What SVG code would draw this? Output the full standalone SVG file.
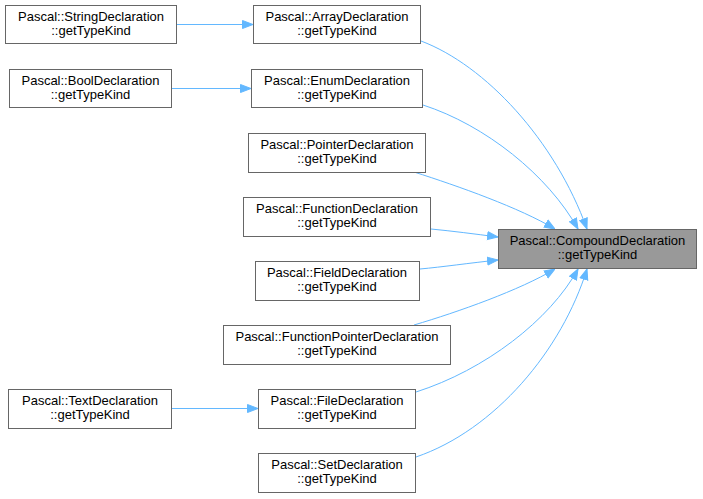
<svg xmlns="http://www.w3.org/2000/svg" width="703" height="499" viewBox="0 0 703 499">
<style>
.n rect{fill:#fff;stroke:#666;stroke-width:1}
.hl rect{fill:#999;stroke:#666;stroke-width:1}
text{font-family:"Liberation Sans",Arial,sans-serif;font-size:13px;text-anchor:middle;fill:#000}
.e path{fill:none;stroke:#63b8ff;stroke-width:1}
</style>
<defs>
<marker id="ah" viewBox="0 0 11 10" refX="11" refY="5" markerWidth="11" markerHeight="10" markerUnits="userSpaceOnUse" orient="auto">
<path d="M0.5,1 L11,5 L0.5,9 z" fill="#63b8ff" stroke="#63b8ff" stroke-width="1"/>
</marker>
</defs>
<rect width="703" height="499" fill="#fff"/>
<g class="e">
<path d="M176,24.5 H253" marker-end="url(#ah)"/>
<path d="M172,88.5 H251" marker-end="url(#ah)"/>
<path d="M172,408.5 H258" marker-end="url(#ah)"/>
<path d="M421,41 C485,65 555,140 587,229" marker-end="url(#ah)"/>
<path d="M423,105 C485,125 548,175 578,229" marker-end="url(#ah)"/>
<path d="M414,172 C458,186 520,208 555,229" marker-end="url(#ah)"/>
<path d="M431,229 C452,231 475,234 498,237" marker-end="url(#ah)"/>
<path d="M420,269 C442,267 470,263 498,260" marker-end="url(#ah)"/>
<path d="M414,325 C458,312 520,290 555,269" marker-end="url(#ah)"/>
<path d="M416,392 C485,370 550,320 578,269" marker-end="url(#ah)"/>
<path d="M416,457 C495,430 562,350 587,269" marker-end="url(#ah)"/>
</g>
<g id="n-string" class="n"><rect x="5.5" y="5.5" width="171" height="38"/><text x="91" y="20.5">Pascal::StringDeclaration</text><text x="91" y="34.5">::getTypeKind</text></g>
<g id="n-bool" class="n"><rect x="9.5" y="69.5" width="162" height="38"/><text x="90.5" y="84.5">Pascal::BoolDeclaration</text><text x="90.5" y="98.5">::getTypeKind</text></g>
<g id="n-text" class="n"><rect x="8.5" y="389.5" width="163" height="39"/><text x="90" y="404.5">Pascal::TextDeclaration</text><text x="90" y="418.5">::getTypeKind</text></g>
<g id="n-array" class="n"><rect x="253.5" y="5.5" width="167" height="38"/><text x="337" y="20.5">Pascal::ArrayDeclaration</text><text x="337" y="34.5">::getTypeKind</text></g>
<g id="n-enum" class="n"><rect x="251.5" y="69.5" width="171" height="38"/><text x="337" y="84.5">Pascal::EnumDeclaration</text><text x="337" y="98.5">::getTypeKind</text></g>
<g id="n-pointer" class="n"><rect x="248.5" y="133.5" width="177" height="39"/><text x="337" y="148.5">Pascal::PointerDeclaration</text><text x="337" y="162.5">::getTypeKind</text></g>
<g id="n-function" class="n"><rect x="243.5" y="197.5" width="187" height="39"/><text x="337" y="212.5">Pascal::FunctionDeclaration</text><text x="337" y="226.5">::getTypeKind</text></g>
<g id="n-field" class="n"><rect x="255.5" y="261.5" width="164" height="39"/><text x="337" y="276.5">Pascal::FieldDeclaration</text><text x="337" y="290.5">::getTypeKind</text></g>
<g id="n-fptr" class="n"><rect x="223.5" y="325.5" width="227" height="39"/><text x="337" y="340.5">Pascal::FunctionPointerDeclaration</text><text x="337" y="354.5">::getTypeKind</text></g>
<g id="n-file" class="n"><rect x="258.5" y="389.5" width="157" height="39"/><text x="337" y="404.5">Pascal::FileDeclaration</text><text x="337" y="418.5">::getTypeKind</text></g>
<g id="n-set" class="n"><rect x="258.5" y="453.5" width="157" height="39"/><text x="337" y="468.5">Pascal::SetDeclaration</text><text x="337" y="482.5">::getTypeKind</text></g>
<g id="n-compound" class="hl"><rect x="498.5" y="229.5" width="198" height="39"/><text x="597.5" y="244.5">Pascal::CompoundDeclaration</text><text x="597.5" y="258.5">::getTypeKind</text></g>
</svg>
